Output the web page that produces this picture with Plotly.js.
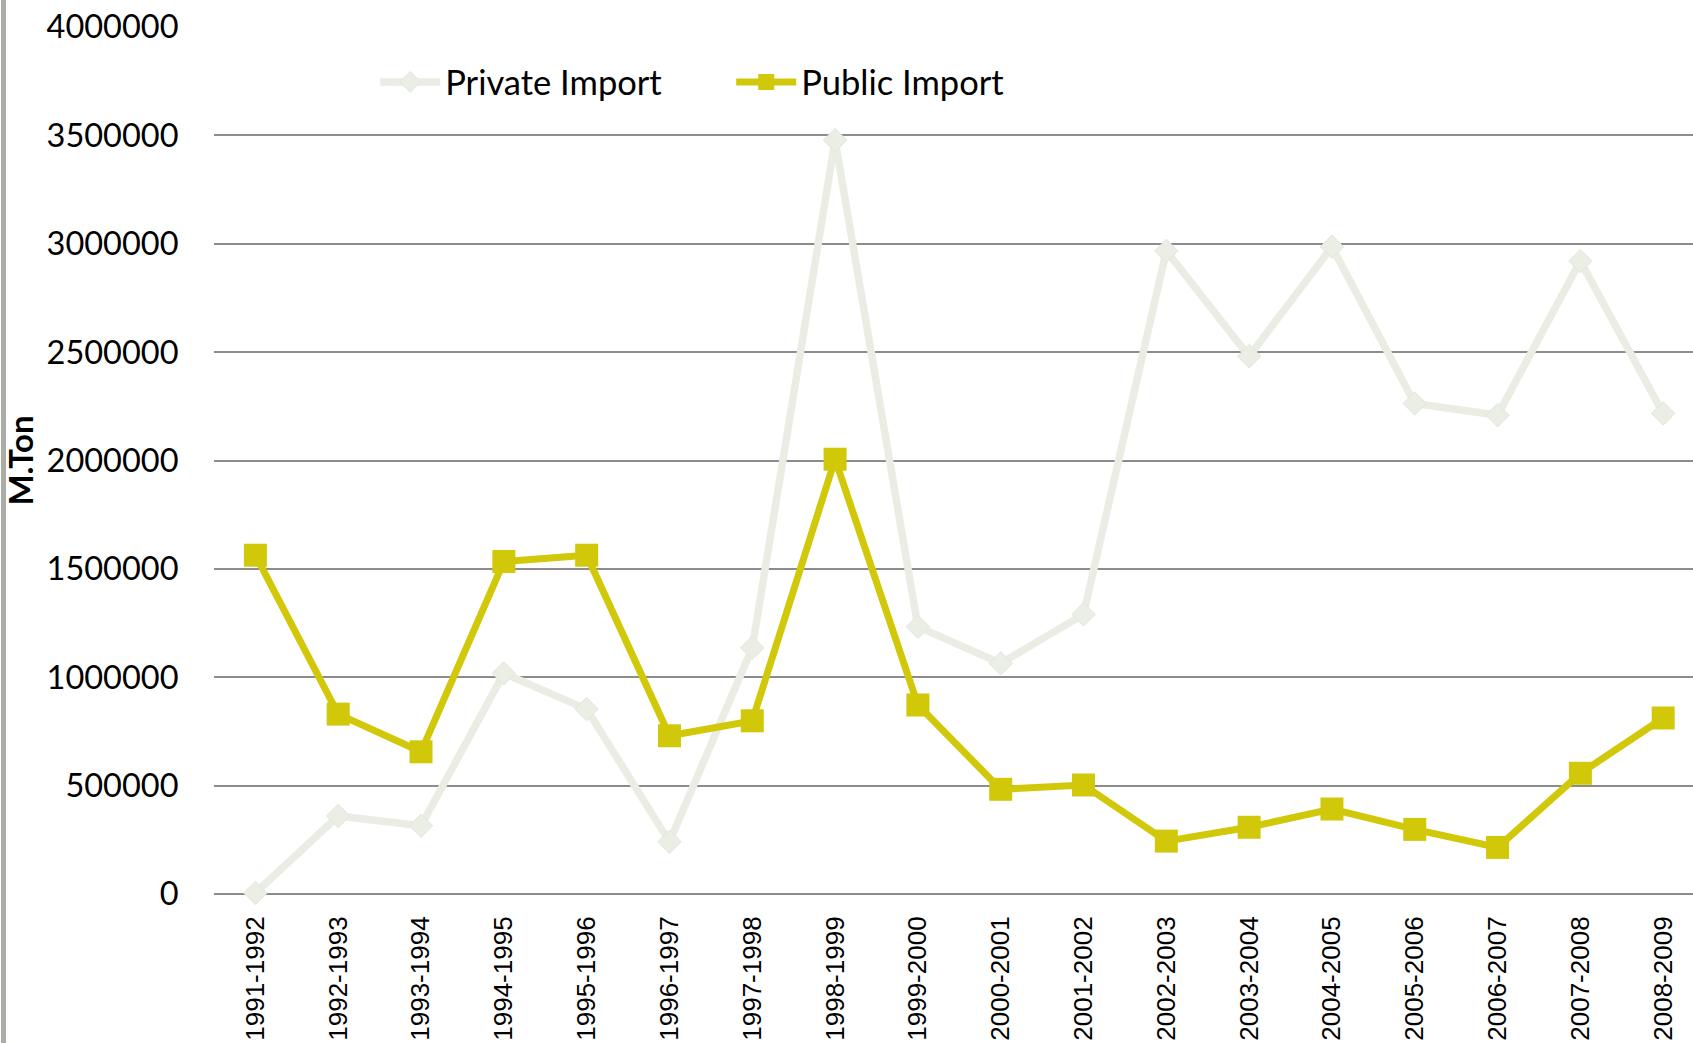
<!DOCTYPE html>
<html>
<head>
<meta charset="utf-8">
<script src="https://cdn.plot.ly/plotly-3.0.1.min.js"></script>
<style>
  html, body { margin: 0; padding: 0; background: #ffffff; }
  #chart { width: 1693px; height: 1043px; position: relative; }
  #edge { position: absolute; left: 1px; top: 0; width: 5px; height: 1043px; background: #aaaca5; z-index: 10; }
</style>
</head>
<body>
<div id="edge"></div>
<div id="chart"></div>
<script>
const seasons = ["1991-1992","1992-1993","1993-1994","1994-1995","1995-1996","1996-1997","1997-1998","1998-1999","1999-2000","2000-2001","2001-2002","2002-2003","2003-2004","2004-2005","2005-2006","2006-2007","2007-2008","2008-2009"];
const privateImport = [5000, 360000, 315000, 1018000, 853000, 241000, 1136000, 3478000, 1233000, 1064000, 1290000, 2967000, 2481000, 2986000, 2263000, 2209000, 2920000, 2217000];
const publicImport = [1563000, 830000, 656000, 1534000, 1563000, 730000, 799000, 2006000, 872000, 483000, 503000, 244000, 308000, 392000, 298000, 215000, 557000, 812000];
const yTicks = [0, 500000, 1000000, 1500000, 2000000, 2500000, 3000000, 3500000, 4000000];

const traces = [
  {
    x: seasons, y: privateImport, name: "Private Import", type: "scatter", mode: "lines+markers",
    line: { color: "#eaede4", width: 7.5 },
    marker: { symbol: "diamond", size: 18, color: "#ebeee5", line: { color: "#e2e5db", width: 1 } },
    cliponaxis: false
  },
  {
    x: seasons, y: publicImport, name: "Public Import", type: "scatter", mode: "lines+markers",
    line: { color: "#d1c80a", width: 7 },
    marker: { symbol: "square", size: 23, color: "#d1c80a" },
    cliponaxis: false
  }
];

const layout = {
  width: 1693, height: 1043,
  margin: { l: 214, r: 0, t: 27, b: 149, pad: 0 },
  paper_bgcolor: "#ffffff", plot_bgcolor: "#ffffff",
  showlegend: true,
  legend: {
    orientation: "h", x: 0.109, xanchor: "left", y: 0.9366, yanchor: "middle",
    font: { family: "Lato", size: 34.5, color: "#000000" },
    bgcolor: "rgba(0,0,0,0)", itemwidth: 60, entrywidth: 281, entrywidthmode: "pixels", traceorder: "normal"
  },
  xaxis: {
    type: "category", range: [-0.5, 17.36],
    showgrid: false, zeroline: false, showline: false,
    tickangle: -90, ticks: "outside", ticklen: 11, tickcolor: "rgba(0,0,0,0)",
    tickfont: { family: "Liberation Sans, Arial", size: 26, color: "#000000" },
    fixedrange: true
  },
  yaxis: {
    range: [0, 4000000], tickvals: yTicks, ticktext: yTicks.map(String),
    showgrid: true, gridcolor: "#8c8c8c", gridwidth: 2,
    zeroline: true, zerolinecolor: "#8c8c8c", zerolinewidth: 2,
    showline: false, ticks: "outside", ticklen: 28, tickcolor: "rgba(0,0,0,0)",
    tickfont: { family: "Lato", size: 32.5, color: "#000000" },
    title: { text: "<b>M.Ton</b>", font: { family: "Lato", size: 33, color: "#000000" }, standoff: 8 },
    fixedrange: true
  }
};

Plotly.newPlot("chart", traces, layout, { displayModeBar: false, staticPlot: true });
</script>
</body>
</html>
